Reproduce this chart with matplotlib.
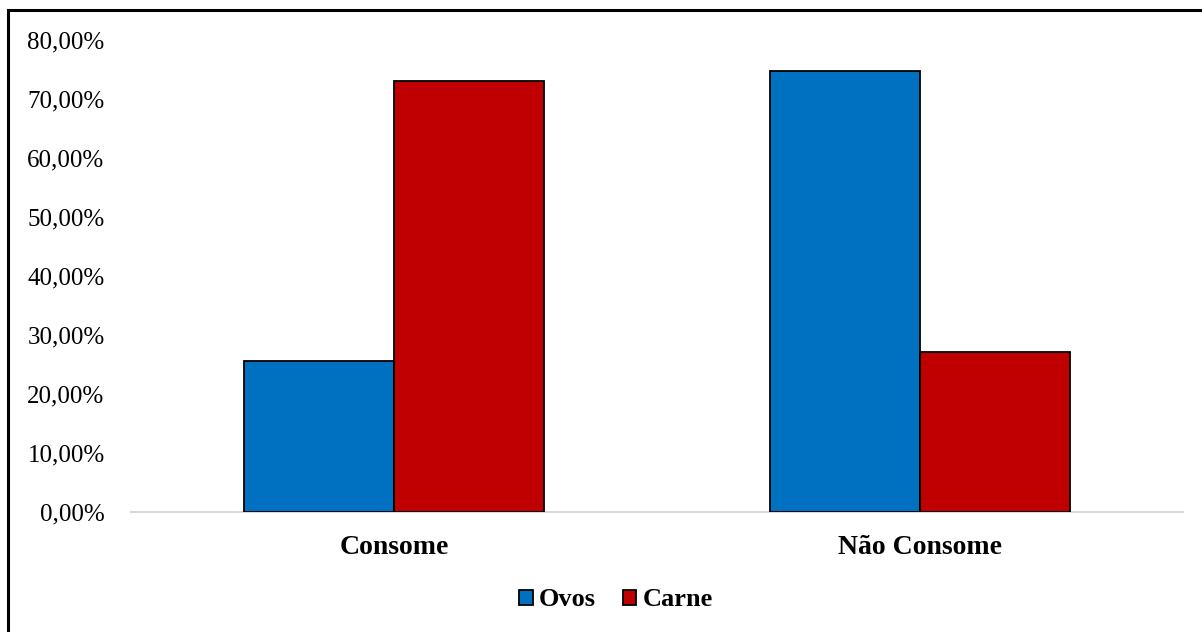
import matplotlib
matplotlib.use("Agg")
import matplotlib.pyplot as plt
from matplotlib.patches import Rectangle
from matplotlib.ticker import FuncFormatter
import numpy as np

categories = ["Consome", "Não Consome"]
series_names = ["Ovos", "Carne"]
ovos = [25.5, 74.7]
carne = [73.0, 27.1]
yticks = [0, 10, 20, 30, 40, 50, 60, 70, 80]

colors = ["#0070C0", "#C00000"]

plt.rcParams["font.family"] = ["Liberation Serif", "DejaVu Serif"]

fig = plt.figure(figsize=(12.02, 6.32), dpi=100)
ax = fig.add_axes([131 / 1202, 120.5 / 632, 1052 / 1202, (511.5 - 40) / 632])

x = np.arange(len(categories))
width = 0.286
for i, (vals, name) in enumerate([(ovos, "Ovos"), (carne, "Carne")]):
    ax.bar(x + (i - 0.5) * width, vals, width, color=colors[i], edgecolor="black",
           linewidth=1.3, label=name, zorder=3)

ax.set_xlim(-0.5, 1.5)
ax.set_ylim(0, 80)
ax.set_yticks(yticks)
ax.yaxis.set_major_formatter(FuncFormatter(lambda v, p: f"{v:.2f}%".replace(".", ",")))
ax.set_xticks(x)
ax.set_xticklabels(categories, fontweight="bold")
ax.tick_params(axis="y", length=0, pad=19, labelsize=18)
ax.tick_params(axis="x", length=0, pad=17, labelsize=20)

for s in ["top", "right", "left"]:
    ax.spines[s].set_visible(False)
ax.spines["bottom"].set_color("#D9D9D9")
ax.spines["bottom"].set_linewidth(1.5)

leg = fig.legend(loc="center", bbox_to_anchor=(616 / 1202, 1 - 600 / 632), ncol=2,
                 frameon=False, prop={"weight": "bold", "size": 19},
                 handlelength=0.5, handleheight=0.5, handletextpad=0.25, columnspacing=1.0)

# outer chart border (right/bottom fall outside the image)
fig.patches.append(Rectangle((8 / 1202, -0.05), 1.2, 1 - 10 / 632 + 0.05,
                             transform=fig.transFigure, fill=False,
                             edgecolor="black", linewidth=2.2))

fig.savefig("out.png", dpi=100)
